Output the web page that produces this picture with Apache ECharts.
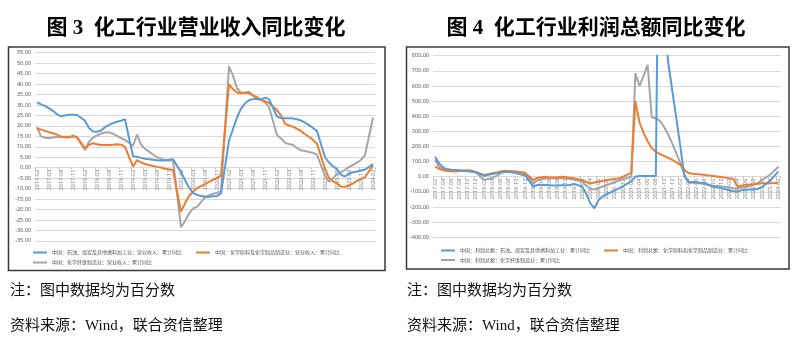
<!DOCTYPE html>
<html><head><meta charset="utf-8">
<script src="https://cdn.jsdelivr.net/npm/echarts@6/dist/echarts.min.js"></script>
<style>html,body{margin:0;padding:0;background:#fff}#c{width:805px;height:341px}</style>
</head><body><div id="c"></div>
<script>
const months = [
 '2017-02','2017-03','2017-04','2017-05','2017-06','2017-07','2017-08','2017-09','2017-10','2017-11','2017-12',
 '2018-01','2018-02','2018-03','2018-04','2018-05','2018-06','2018-07','2018-08','2018-09','2018-10','2018-11','2018-12',
 '2019-01','2019-02','2019-03','2019-04','2019-05','2019-06','2019-07','2019-08','2019-09','2019-10','2019-11','2019-12',
 '2020-01','2020-02','2020-03','2020-04','2020-05','2020-06','2020-07','2020-08','2020-09','2020-10','2020-11','2020-12',
 '2021-01','2021-02','2021-03','2021-04','2021-05','2021-06','2021-07','2021-08','2021-09','2021-10','2021-11','2021-12',
 '2022-01','2022-02','2022-03','2022-04','2022-05','2022-06','2022-07','2022-08','2022-09','2022-10','2022-11','2022-12',
 '2023-01','2023-02','2023-03','2023-04','2023-05','2023-06','2023-07','2023-08','2023-09','2023-10','2023-11','2023-12',
 '2024-01','2024-02'
];

// 图3 营业收入累计同比 (%)
const revPetro = [
 31.3,30.3,29.6,28.4,27.2,25.6,24.6,25.0,25.3,25.3,25.2,
 null,22.5,19.0,17.3,17.2,17.8,19.4,20.5,21.3,22.0,22.5,23.2,
 null,5.5,5.2,4.7,4.3,4.0,3.8,3.6,3.5,3.4,3.8,4.0,
 null,-2.0,-6.0,-9.5,-12.0,-13.0,-13.5,-13.8,-13.9,-13.7,-13.5,-12.3,
 null,13.0,18.5,24.0,28.3,30.8,32.3,32.8,32.9,32.7,33.5,32.8,
 null,24.5,23.8,23.6,23.6,23.5,23.2,22.6,21.6,20.4,19.0,17.5,
 null,5.0,2.5,0.6,-0.6,-3.4,-4.2,-2.9,-2.2,-1.8,-1.3,-0.9,
 null,1.8
];
const revChem = [
 18.9,18.2,17.6,17.0,16.5,15.8,14.8,14.6,14.5,15.3,14.6,
 null,9.3,10.9,11.7,11.2,10.9,10.9,10.9,11.0,11.2,11.0,10.0,
 null,0.5,3.7,2.5,1.8,1.3,0.8,0.4,0.1,-0.5,-0.8,-1.1,
 null,-21.0,-17.0,-13.5,-11.5,-9.8,-8.8,-7.8,-6.8,-5.8,-4.8,-3.8,
 null,40.0,37.5,36.0,35.6,35.8,35.6,34.5,33.8,32.5,31.8,31.0,
 null,27.5,25.0,21.0,20.2,19.6,18.6,17.6,16.0,14.8,13.3,11.5,
 null,-0.5,-5.0,-6.5,-7.5,-9.0,-9.1,-8.5,-7.5,-6.3,-5.5,-4.5,
 null,1.2
];
const revFiber = [
 19.3,15.0,14.3,14.1,14.5,14.7,14.8,14.8,14.8,14.8,14.4,
 null,8.5,12.4,14.3,15.5,16.3,16.8,16.9,16.3,15.2,14.2,13.3,
 null,10.5,15.8,11.0,9.0,7.7,6.3,5.0,4.2,3.7,3.3,3.8,
 null,-28.5,-25.5,-22.0,-19.5,-18.7,-16.5,-14.2,-13.2,-12.5,-12.0,-11.3,
 null,48.5,44.0,38.0,35.8,36.0,36.3,34.5,33.0,32.4,31.2,29.0,
 null,15.5,14.0,12.0,11.3,10.9,9.4,8.3,8.0,7.5,7.1,6.2,
 null,-4.0,-6.7,-5.0,-3.0,-2.1,-1.0,0.4,1.3,2.4,3.8,6.0,
 null,24.0
];

// 图4 利润总额累计同比 (%)
const profPetro = [
 132,88,60,50,46,44,42,40,38,35,30,
 null,5,12,18,22,28,33,31,28,22,15,10,
 null,-66,-55,-55,-55,-57,-58,-58,-57,-56,-55,-48,
 null,-65,-115,-176,-209,-154,-130,-115,-103,-88,-77,-62,
 null,-30,0,5,5,5,5,5,2500,1100,760,575,
 null,200,0,-33,-35,-37,-40,-42,-55,-66,-70,-76,
 null,-90,-97,-99,-90,-87,-85,-84,-80,-68,-48,-25,
 null,35
];
const profChem = [
 66,52,42,38,36,35,37,40,42,40,30,
 null,11,17,23,28,34,40,38,36,33,30,27,
 null,-22,-8,-3,0,-3,-5,-3,0,-3,-7,-11,
 null,-22,-35,-44,-38,-33,-28,-24,-19,-15,-11,0,
 null,25,500,360,290,235,190,165,150,138,125,112,
 null,78,45,24,20,17,14,11,8,5,2,-2,
 null,-11,-15,-66,-60,-55,-52,-50,-47,-44,-44,-43,
 null,-40
];
const profFiber = [
 110,66,52,48,44,42,40,38,36,32,27,
 null,-22,-15,-8,5,20,33,34,33,32,28,22,
 null,-44,-25,-17,-13,-11,-11,-11,-11,-13,-15,-17,
 null,-33,-60,-80,-85,-75,-65,-55,-45,-35,-25,-15,
 null,0,683,600,665,740,395,385,370,330,280,220,
 null,90,15,-40,-40,-42,-45,-50,-55,-60,-62,-65,
 null,-70,-78,-80,-72,-68,-62,-50,-42,-20,-5,15,
 null,66
];

const names1 = ['中国：石油、煤炭及其他燃料加工业：营业收入：累计同比','中国：化学原料及化学制品制造业：营业收入：累计同比','中国：化学纤维制造业：营业收入：累计同比'];
const names2 = ['中国：利润总额：石油、煤炭及其他燃料加工业：累计同比','中国：利润总额：化学原料和化学制品制造业：累计同比','中国：利润总额：化学纤维制造业：累计同比'];
const titles = ['图 3  化工行业营业收入同比变化','图 4  化工行业利润总额同比变化'];
const note1 = '注：图中数据均为百分数';
const note2 = '资料来源：Wind，联合资信整理';

const colors = ['#5B9BD5','#ED7D31','#A5A5A5'];
const labelFont = 'Noto Sans';
const gridColor = '#d9d9d9';

function xAxis(gi, interval, offset){
  return {type:'category', gridIndex:gi, data:months, boundaryGap:true, position:'bottom', offset:offset,
    axisLine:{onZero:false, lineStyle:{color:gridColor}},
    axisTick:{show:true, interval:interval, length:2, lineStyle:{color:'#bfbfbf'}},
    axisLabel:{interval:interval, rotate:90, fontSize:5.5, color:'#7f7f7f', margin:2, fontFamily:labelFont}};
}
function yAxis(gi, min, max, step){
  return {type:'value', gridIndex:gi, min:min, max:max, interval:step,
    axisLine:{show:false}, axisTick:{show:false},
    splitLine:{lineStyle:{color:gridColor, width:1}},
    axisLabel:{fontSize:5.5, color:'#595959', margin:4, fontFamily:labelFont, formatter:v=>v.toFixed(2)}};
}
function ser(name, data, ci, gi){
  return {type:'line', name:name, data:data, xAxisIndex:gi, yAxisIndex:gi, connectNulls:true,
    showSymbol:false, symbol:'none', clip:true, lineStyle:{width:2, color:colors[ci]}, itemStyle:{color:colors[ci]}, z: 3-ci};
}
function legend(left, top, data){
  return {left:left, top:top, padding:0, itemWidth:14, itemHeight:2, itemGap:14, icon:'rect', selectedMode:false,
    textStyle:{fontSize:5, color:'#595959', fontFamily:'Noto Sans CJK SC'}, data:data};
}
const titleFont = 'bold 21px "Liberation Serif","Noto Sans CJK SC"';
const noteFont = '15px "Liberation Serif","Noto Sans CJK SC"';

// grid geometry: chart1 0-line at 167.7 (bottom 240.9), chart2 0-line at 176.7 (bottom 237.2)
const chart = echarts.init(document.getElementById('c'), null, {renderer:'canvas'});
chart.setOption({
  animation:false,
  backgroundColor:'#fff',
  grid:[
    {left:35, top:52.7, width:340, height:188.2},
    {left:433, top:55.7, width:347.5, height:181.5}
  ],
  xAxis:[xAxis(0,2,-73.2), xAxis(1,1,-60.5)],
  yAxis:[yAxis(0,-35,55,5), yAxis(1,-400,800,100)],
  legend:[
    legend(33, 250, [names1[0], names1[1]]),
    legend(33, 260, [names1[2]]),
    legend(441, 248, [names2[0], names2[1]]),
    legend(441, 257.5, [names2[2]])
  ],
  series:[
    ser(names1[0], revPetro, 0, 0), ser(names1[1], revChem, 1, 0), ser(names1[2], revFiber, 2, 0),
    ser(names2[0], profPetro, 0, 1), ser(names2[1], profChem, 1, 1), ser(names2[2], profFiber, 2, 1)
  ],
  graphic:[
    {type:'rect', shape:{x:8.5, y:47, width:376.5, height:223.5}, style:{fill:'none', stroke:'#3a3a3a', lineWidth:1.5}, z:-1},
    {type:'rect', shape:{x:406.5, y:47, width:382.5, height:222}, style:{fill:'none', stroke:'#3a3a3a', lineWidth:1.5}, z:-1},
    {type:'text', style:{text:titles[0], x:196, y:29, font:titleFont, fill:'#000', textAlign:'center', textVerticalAlign:'middle'}},
    {type:'text', style:{text:titles[1], x:596, y:29, font:titleFont, fill:'#000', textAlign:'center', textVerticalAlign:'middle'}},
    {type:'text', style:{text:note1, x:10, y:291, font:noteFont, fill:'#111', textVerticalAlign:'middle'}},
    {type:'text', style:{text:note2, x:10, y:326, font:noteFont, fill:'#111', textVerticalAlign:'middle'}},
    {type:'text', style:{text:note1, x:407, y:291, font:noteFont, fill:'#111', textVerticalAlign:'middle'}},
    {type:'text', style:{text:note2, x:407, y:326, font:noteFont, fill:'#111', textVerticalAlign:'middle'}}
  ]
});
</script></body></html>
